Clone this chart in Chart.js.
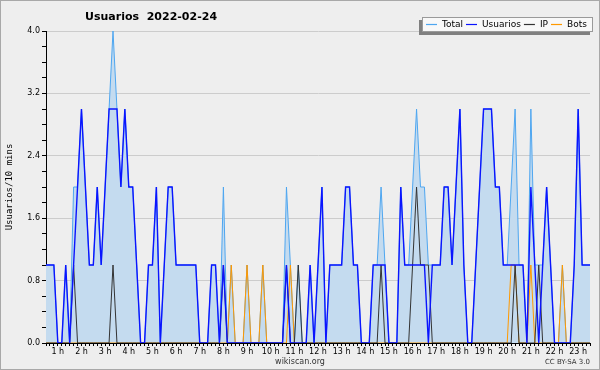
<!DOCTYPE html>
<html>
<head>
<meta charset="utf-8">
<script src="https://cdn.jsdelivr.net/npm/chart.js@4"></script>
<style>
  body { margin: 0; background: #eeeeee; }
  canvas { display: block; }
</style>
</head>
<body>
<canvas id="myChart" width="600" height="370"></canvas>
<script>
// 10 minute slots, 00:30 .. 23:30
var hours = ['1 h','2 h','3 h','4 h','5 h','6 h','7 h','8 h','9 h','10 h','11 h','12 h',
             '13 h','14 h','15 h','16 h','17 h','18 h','19 h','20 h','21 h','22 h','23 h'];
var yTicks = [0, 0.8, 1.6, 2.4, 3.2, 4.0];

var usuarios = [
  1,1,1,0,0,1,0,1,2,3,
  2,1,1,2,1,2,3,3,3,2,
  3,2,2,1,0,0,1,1,2,0,
  1,2,2,1,1,1,1,1,1,0,
  0,0,1,1,0,1,0,0,0,0,
  0,0,0,0,0,0,0,0,0,0,
  0,1,0,0,0,0,0,1,0,1,
  2,0,1,1,1,1,2,2,1,1,
  0,0,0,1,1,1,1,0,0,0,
  2,1,1,1,1,1,1,0,1,1,
  1,2,2,1,2,3,1,0,0,1,
  2,3,3,3,2,2,1,1,1,1,
  1,1,0,2,1,0,1,2,1,0,
  0,0,0,0,1,3,1,1,1
];
var ip = [
  0,0,0,0,0,0,0,1,0,0,
  0,0,0,0,0,0,0,1,0,0,
  0,0,0,0,0,0,0,0,0,0,
  0,0,0,0,0,0,0,0,0,0,
  0,0,0,0,0,1,0,0,0,0,
  0,0,0,0,0,0,0,0,0,0,
  0,1,0,0,1,0,0,0,0,0,
  0,0,0,0,0,0,0,0,0,0,
  0,0,0,0,0,1,0,0,0,0,
  0,0,0,1,2,1,1,1,0,0,
  0,0,0,0,0,0,0,0,0,0,
  0,0,0,0,0,0,0,0,0,1,
  0,0,0,0,0,1,0,0,0,0,
  0,0,0,0,0,0,0,0,0
];
var bots = [
  0,0,0,0,0,0,0,0,0,0,
  0,0,0,0,0,0,0,0,0,0,
  0,0,0,0,0,0,0,0,0,0,
  0,0,0,0,0,0,0,0,0,0,
  0,0,0,0,0,0,0,1,0,0,
  0,1,0,0,0,1,0,0,0,0,
  0,0,1,0,0,0,0,0,0,0,
  0,0,0,0,0,0,0,0,0,0,
  0,0,0,0,0,0,0,0,0,0,
  0,0,0,0,0,0,0,0,0,0,
  0,0,0,0,0,0,0,0,0,0,
  0,0,0,0,0,0,0,0,1,1,
  0,0,0,1,0,0,0,0,0,0,
  0,1,0,0,0,0,0,0,0
];
var total = [
  1,1,1,0,0,1,0,2,2,3,
  2,1,1,2,1,2,3,4,3,2,
  3,2,2,1,0,0,1,1,2,0,
  1,2,2,1,1,1,1,1,1,0,
  0,0,1,1,0,2,0,1,0,0,
  0,1,0,0,0,1,0,0,0,0,
  0,2,1,0,1,0,0,1,0,1,
  2,0,1,1,1,1,2,2,1,1,
  0,0,0,1,1,2,1,0,0,0,
  2,1,1,2,3,2,2,1,1,1,
  1,2,2,1,2,3,1,0,0,1,
  2,3,3,3,2,2,1,1,2,3,
  1,1,0,3,1,1,1,2,1,0,
  0,1,0,0,1,3,1,1,1
];

// category labels: hour name on the full-hour slots, blank otherwise
var labels = total.map(function (v, i) {
  return (i - 3) % 6 === 0 ? hours[(i - 3) / 6] : '';
});

function isMajor(v) {
  return yTicks.some(function (t) { return Math.abs(t - v) < 1e-6; });
}

var decor = {
  id: 'decor',
  beforeDraw: function (chart) {
    var c = chart.ctx;
    c.save();
    c.fillStyle = '#eeeeee';
    c.fillRect(0, 0, chart.width, chart.height);
    c.strokeStyle = '#a8a8a8';
    c.lineWidth = 1;
    c.strokeRect(0.5, 0.5, chart.width - 1, chart.height - 1);
    c.restore();
  },
  afterDraw: function (chart) {
    var c = chart.ctx;
    c.save();
    // title
    c.fillStyle = '#000';
    c.font = 'bold 11px "DejaVu Sans"';
    c.textBaseline = 'middle';
    c.textAlign = 'left';
    c.fillText('Usuarios  2022-02-24', 85, 17);

    // legend box with shadow
    c.fillStyle = '#808080';
    c.fillRect(419, 20, 171, 15);
    c.fillStyle = '#f8f8f8';
    c.fillRect(422, 17, 171, 15);
    c.strokeStyle = '#9a9a9a';
    c.strokeRect(422.5, 17.5, 170, 14);
    c.font = '9px "DejaVu Sans"';
    var x = 426;
    chart.data.datasets.forEach(function (ds) {
      c.strokeStyle = ds.borderColor;
      c.lineWidth = 1.2;
      c.beginPath();
      c.moveTo(x, 24.5);
      c.lineTo(x + 11, 24.5);
      c.stroke();
      x += 16;
      c.fillStyle = '#000';
      c.fillText(ds.label, x, 25);
      x += c.measureText(ds.label).width + 3;
    });

    // footer
    c.fillStyle = '#333';
    c.font = '8px "DejaVu Sans"';
    c.textAlign = 'center';
    c.fillText('wikiscan.org', 300, 362);
    c.font = '7px "DejaVu Sans"';
    c.textAlign = 'right';
    c.fillText('CC BY-SA 3.0', 590, 362);
    c.restore();
  }
};

var ctx = document.getElementById('myChart').getContext('2d');
var myChart = new Chart(ctx, {
  type: 'line',
  data: {
    labels: labels,
    datasets: [{
      label: 'Total',
      data: total,
      borderColor: '#4ea6f0',
      backgroundColor: '#c4dbef',
      borderWidth: 1,
      fill: 'origin',
      order: 4
    }, {
      label: 'Usuarios',
      data: usuarios,
      borderColor: '#0a14ff',
      borderWidth: 1.4,
      fill: false,
      order: 1
    }, {
      label: 'IP',
      data: ip,
      borderColor: '#333333',
      borderWidth: 1,
      fill: false,
      order: 2
    }, {
      label: 'Bots',
      data: bots,
      borderColor: '#ff9900',
      borderWidth: 1,
      fill: false,
      order: 3
    }]
  },
  options: {
    responsive: false,
    animation: false,
    layout: { padding: { top: 31, right: 10, bottom: 0, left: 0 } },
    elements: {
      point: { radius: 0 },
      line: { tension: 0 }
    },
    scales: {
      x: {
        offset: false,
        afterFit: function (s) { s.height = 27; },
        grid: { drawOnChartArea: false, tickLength: 3, tickColor: '#000' },
        border: { color: '#000' },
        ticks: {
          autoSkip: false,
          maxRotation: 0,
          padding: 1,
          color: '#000',
          font: { family: 'DejaVu Sans', size: 8 }
        }
      },
      y: {
        min: 0,
        max: 4,
        afterFit: function (s) { s.width = 46; },
        grid: {
          color: function (c) {
            return (isMajor(c.tick.value) && c.tick.value > 0) ? '#cccccc' : 'rgba(0,0,0,0)';
          },
          tickColor: '#000',
          tickLength: 4
        },
        border: { color: '#000' },
        ticks: {
          stepSize: 0.2,
          autoSkip: false,
          padding: 2,
          color: '#000',
          font: { family: 'DejaVu Sans', size: 8 },
          callback: function (v) { return isMajor(v) ? v.toFixed(1) : ''; }
        },
        title: {
          display: true,
          text: 'Usuarios/10 mins',
          color: '#000',
          font: { family: 'DejaVu Sans Mono', size: 9 },
          padding: { top: 4, bottom: 0 }
        }
      }
    },
    plugins: {
      legend: { display: false },
      title: { display: false },
      tooltip: { enabled: false }
    }
  },
  plugins: [decor]
});
</script>
</body>
</html>
